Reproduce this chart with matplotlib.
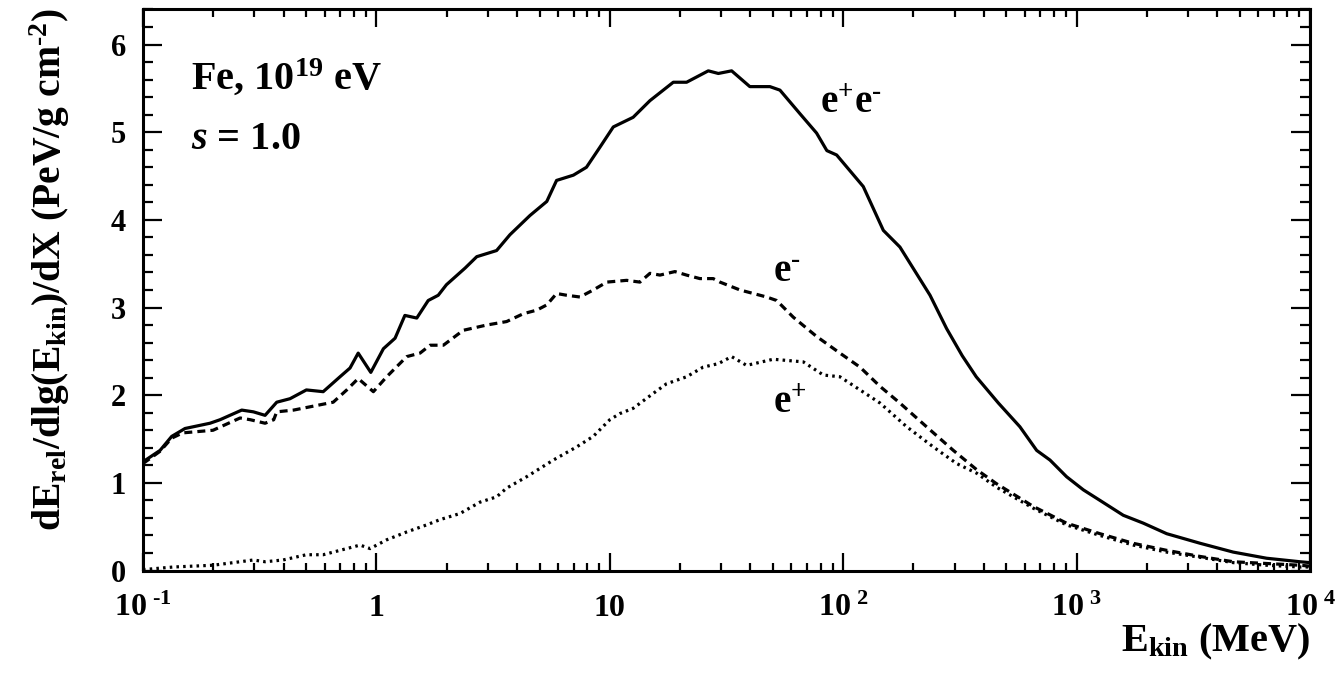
import matplotlib
matplotlib.use("Agg")
import matplotlib.pyplot as plt
import numpy as np
from matplotlib.ticker import FixedLocator, FixedFormatter, LogLocator, NullFormatter, MultipleLocator

plt.rcParams['font.family'] = ['Liberation Serif', 'DejaVu Serif']
plt.rcParams['font.weight'] = 'bold'
plt.rcParams['axes.labelweight'] = 'bold'
plt.rcParams['mathtext.fontset'] = 'custom'
plt.rcParams['mathtext.rm'] = 'Liberation Serif:bold'
plt.rcParams['mathtext.it'] = 'Liberation Serif:italic:bold'
plt.rcParams['mathtext.bf'] = 'Liberation Serif:bold'

HY = '\u2010'  # short hyphen, like the original superscripts

# e+e- (solid) : lg(E_kin/MeV), dE/dlgE/dX
lg_sum = [-1.0, -0.927, -0.877, -0.82, -0.713, -0.67, -0.577, -0.527, -0.477, -0.427,
          -0.37, -0.30, -0.228, -0.156, -0.113, -0.078, -0.024, 0.03, 0.08, 0.122,
          0.173, 0.222, 0.265, 0.30, 0.38, 0.43, 0.515, 0.572, 0.658, 0.73,
          0.772, 0.844, 0.90, 0.958, 1.015, 1.10, 1.172, 1.272, 1.329, 1.372,
          1.422, 1.465, 1.522, 1.60, 1.686, 1.729, 1.815, 1.886, 1.93, 1.972,
          2.086, 2.172, 2.243, 2.372, 2.443, 2.51, 2.57, 2.665, 2.757, 2.829,
          2.886, 2.957, 3.029, 3.10, 3.20, 3.286, 3.386, 3.53, 3.671, 3.814,
          3.957, 4.0]
val_sum = [1.24, 1.37, 1.53, 1.62, 1.68, 1.72, 1.83, 1.81, 1.77, 1.92,
           1.96, 2.06, 2.04, 2.21, 2.31, 2.48, 2.26, 2.53, 2.65, 2.91,
           2.88, 3.08, 3.14, 3.26, 3.45, 3.58, 3.65, 3.83, 4.05, 4.21,
           4.45, 4.51, 4.60, 4.83, 5.06, 5.17, 5.36, 5.57, 5.57, 5.63,
           5.70, 5.67, 5.70, 5.52, 5.52, 5.48, 5.21, 4.99, 4.79, 4.74,
           4.38, 3.88, 3.69, 3.14, 2.76, 2.45, 2.21, 1.91, 1.64, 1.37,
           1.26, 1.07, 0.92, 0.80, 0.63, 0.54, 0.42, 0.31, 0.21, 0.14,
           0.10, 0.09]

# e- (dashed)
lg_em = [-1.0, -0.927, -0.877, -0.83, -0.70, -0.584, -0.54, -0.477, -0.44, -0.427,
         -0.355, -0.242, -0.185, -0.127, -0.078, -0.013, 0.044, 0.13, 0.187, 0.23,
         0.287, 0.372, 0.472, 0.558, 0.63, 0.687, 0.73, 0.772, 0.815, 0.872,
         0.929, 0.987, 1.072, 1.129, 1.172, 1.215, 1.279, 1.329, 1.386, 1.443,
         1.472, 1.558, 1.672, 1.715, 1.786, 1.886, 1.986, 2.072, 2.158, 2.243,
         2.357, 2.472, 2.572, 2.657, 2.815, 2.957, 3.10, 3.243, 3.386, 3.53,
         3.671, 3.814, 3.957, 4.0]
val_em = [1.22, 1.36, 1.51, 1.57, 1.60, 1.74, 1.72, 1.68, 1.72, 1.81,
          1.83, 1.89, 1.92, 2.06, 2.19, 2.04, 2.21, 2.44, 2.48, 2.57,
          2.57, 2.74, 2.80, 2.84, 2.93, 2.97, 3.03, 3.16, 3.14, 3.12,
          3.20, 3.29, 3.31, 3.29, 3.39, 3.37, 3.41, 3.37, 3.33, 3.33,
          3.29, 3.20, 3.12, 3.08, 2.89, 2.67, 2.48, 2.32, 2.10, 1.91,
          1.64, 1.37, 1.15, 0.99, 0.73, 0.54, 0.42, 0.31, 0.23, 0.16,
          0.10, 0.08, 0.06, 0.05]

# e+ (dotted)
lg_ep = [-1.0, -0.87, -0.70, -0.584, -0.527, -0.477, -0.40, -0.30, -0.228, -0.156,
         -0.07, -0.027, 0.044, 0.13, 0.215, 0.272, 0.358, 0.444, 0.515, 0.558,
         0.644, 0.758, 0.858, 0.929, 1.0, 1.043, 1.10, 1.186, 1.243, 1.329,
         1.40, 1.465, 1.522, 1.586, 1.70, 1.829, 1.915, 1.986, 2.072, 2.158,
         2.272, 2.386, 2.486, 2.572, 2.657, 2.815, 2.957, 3.10, 3.243, 3.386,
         3.53, 3.671, 3.814, 3.957, 4.0]
val_ep = [0.01, 0.04, 0.06, 0.10, 0.12, 0.10, 0.12, 0.18, 0.18, 0.23,
          0.29, 0.25, 0.35, 0.44, 0.52, 0.58, 0.65, 0.78, 0.84, 0.94,
          1.07, 1.26, 1.41, 1.53, 1.72, 1.79, 1.85, 2.02, 2.13, 2.21,
          2.32, 2.36, 2.44, 2.34, 2.41, 2.38, 2.23, 2.21, 2.06, 1.91,
          1.64, 1.41, 1.22, 1.11, 0.95, 0.71, 0.52, 0.40, 0.29, 0.21,
          0.15, 0.09, 0.06, 0.04, 0.04]

x_major = [0.1, 1, 10, 100, 1000, 10000]
x_major_labels = [r'$10^{\ ' + HY + '1}$', '1', '10', r'$10^{\ 2}$', r'$10^{\ 3}$', r'$10^{\ 4}$']

fig = plt.figure(figsize=(13.44, 6.77), dpi=100)
ax = fig.add_axes([0.1064, 0.1573, 0.8683, 0.8287])

ax.plot(10 ** np.array(lg_sum), val_sum, color='black', lw=2.3)
ax.plot(10 ** np.array(lg_em), val_em, color='black', lw=2.3, ls=(0, (2.5, 1.6)))
ax.plot(10 ** np.array(lg_ep), val_ep, color='black', lw=2.3, ls=(0, (0.8, 1.3)))

ax.set_xscale('log')
ax.set_xlim(0.1, 1e4)
ax.set_ylim(0, 6.4)

ax.xaxis.set_major_locator(FixedLocator(x_major))
ax.xaxis.set_major_formatter(FixedFormatter(x_major_labels))
ax.xaxis.set_minor_locator(LogLocator(base=10, subs=np.arange(2, 10), numticks=20))
ax.xaxis.set_minor_formatter(NullFormatter())
ax.yaxis.set_major_locator(MultipleLocator(1))
ax.yaxis.set_minor_locator(MultipleLocator(0.2))

for s in ax.spines.values():
    s.set_linewidth(2.2)
ax.tick_params(which='both', direction='in', top=True, right=True, width=1.6)
ax.tick_params(axis='x', which='major', length=13, labelsize=23, pad=33)
ax.tick_params(axis='x', which='minor', length=6)
ax.tick_params(axis='y', which='major', length=14, labelsize=22, pad=12)
ax.tick_params(axis='y', which='minor', length=7)
# put the x tick labels on a common baseline, as in the original
plt.setp(ax.get_xticklabels(), va='baseline')

ax.set_xlabel(r'E$_{\mathrm{kin}}$ (MeV)', fontsize=29, ha='right')
ax.xaxis.set_label_coords(1.0, -0.092)
ax.set_ylabel(r'dE$_{\mathrm{rel}}$/dlg(E$_{\mathrm{kin}}$)/dX (PeV/g cm$^{' + HY + '2}$)', fontsize=28.5)
ax.yaxis.set_label_coords(-0.061, 0.537)

ax.text(0.041, 0.859, r'Fe, 10$^{19}$ eV', transform=ax.transAxes, fontsize=29, va='baseline')
ax.text(0.041, 0.751, r'$s$ = 1.0', transform=ax.transAxes, fontsize=29, va='baseline')
ax.text(0.580, 0.815, r'e$^{+}$e$^{' + HY + '}$', transform=ax.transAxes, fontsize=28, va='baseline')
ax.text(0.540, 0.516, r'e$^{' + HY + '}$', transform=ax.transAxes, fontsize=28, va='baseline')
ax.text(0.540, 0.281, r'e$^{+}$', transform=ax.transAxes, fontsize=28, va='baseline')

fig.savefig('out.png', dpi=100)
